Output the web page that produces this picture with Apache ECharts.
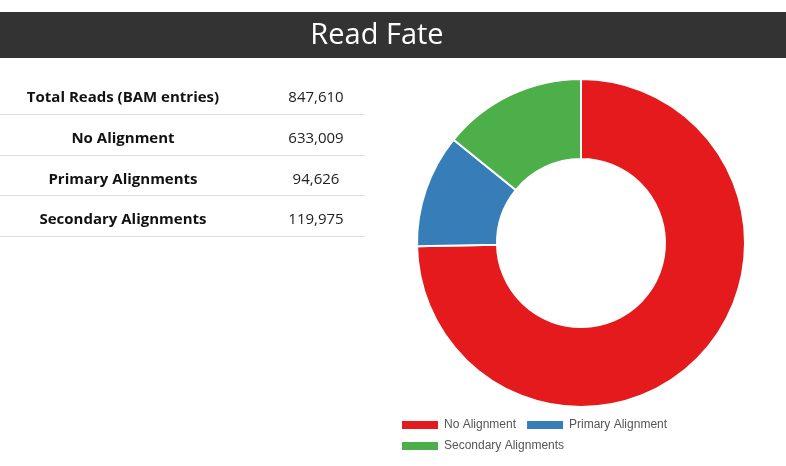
<!DOCTYPE html>
<html><head><meta charset="utf-8">
<script src="https://cdn.jsdelivr.net/npm/echarts@6/dist/echarts.min.js"></script>
<style>html,body{margin:0;padding:0;background:#fff}#c{width:786px;height:466px}</style>
</head><body><div id="c"></div>
<script>
const titleText = 'Read Fate';
const tableLabels = ['Total Reads (BAM entries)', 'No Alignment', 'Primary Alignments', 'Secondary Alignments'];
const tableValues = ['847,610', '633,009', '94,626', '119,975'];
const categories = ['No Alignment', 'Primary Alignment', 'Secondary Alignments'];
const values = [633009, 94626, 119975];
const colors = ['#e41a1c', '#377eb8', '#4daf4a'];

const chart = echarts.init(document.getElementById('c'), null, {renderer: 'canvas'});
const graphics = [
  {type: 'rect', shape: {x: 0, y: 12, width: 786, height: 46}, style: {fill: '#333333'}},
  {type: 'text', x: 377, y: 36, style: {text: titleText, fill: '#ffffff', font: '29px "Open Sans"', textAlign: 'center', textVerticalAlign: 'middle'}}
];
tableLabels.forEach((lab, i) => {
  const cy = 96 + i * 40.7;
  graphics.push({type: 'text', x: 123, y: cy + 2, style: {text: lab, fill: '#111', font: 'bold 15px "Open Sans"', textAlign: 'center', textVerticalAlign: 'middle'}});
  graphics.push({type: 'text', x: 316, y: cy + 2, style: {text: tableValues[i], fill: '#222', font: '15px "Open Sans"', textAlign: 'center', textVerticalAlign: 'middle'}});
  graphics.push({type: 'rect', shape: {x: 0, y: Math.round(cy + 18), width: 365, height: 1}, style: {fill: '#dddddd'}});
});

chart.setOption({
  animation: false,
  color: colors,
  graphic: graphics,
  legend: {
    left: 400, top: 419, width: 290, padding: 0,
    itemWidth: 38, itemHeight: 10, itemGap: 9,
    icon: 'rect',
    textStyle: {fontFamily: 'Arial, "Liberation Sans"', fontSize: 12, color: '#555'},
    data: categories
  },
  series: [{
    type: 'pie',
    center: [581, 243],
    radius: [84, 164],
    startAngle: 90,
    clockwise: true,
    label: {show: false},
    labelLine: {show: false},
    itemStyle: {borderColor: '#fff', borderWidth: 2},
    data: categories.map((c, i) => ({name: c, value: values[i]}))
  }]
});
</script></body></html>
